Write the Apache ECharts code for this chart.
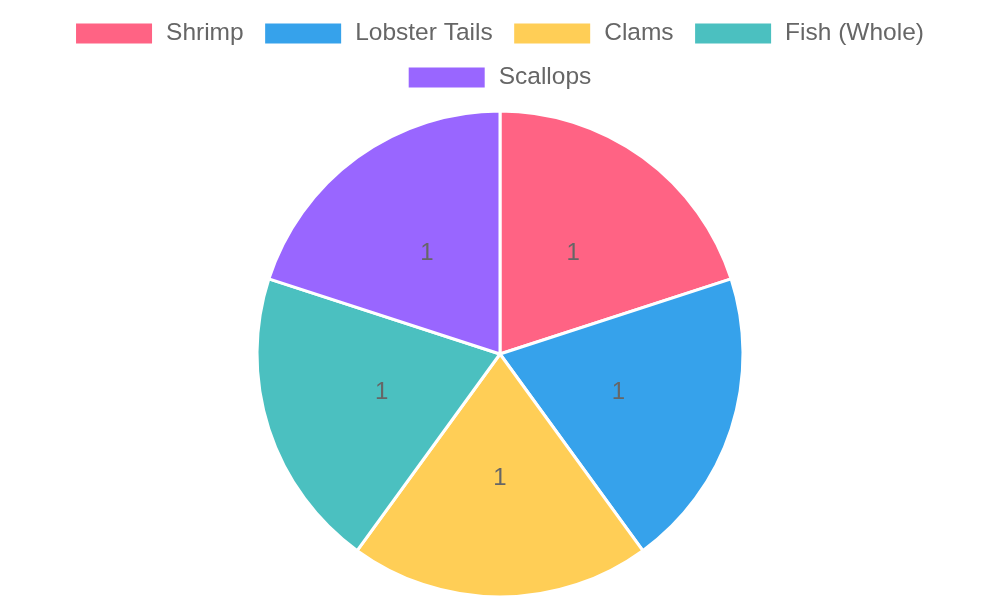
<!DOCTYPE html>
<html>
<head>
<meta charset="utf-8">
<script src="https://cdn.jsdelivr.net/npm/echarts@6/dist/echarts.min.js"></script>
<style>html,body{margin:0;padding:0;background:#fff}#c{width:1000px;height:600px}</style>
</head>
<body>
<div id="c"></div>
<script>
const categories = ['Shrimp', 'Lobster Tails', 'Clams', 'Fish (Whole)', 'Scallops'];
const values = [1, 1, 1, 1, 1];
const colors = ['#ff6384', '#36a2eb', '#ffce56', '#4bc0c0', '#9966ff'];

const chart = echarts.init(document.getElementById('c'));
const legendBase = {
  orient: 'horizontal',
  left: 'center',
  icon: 'rect',
  itemWidth: 76,
  itemHeight: 20,
  itemGap: 21.5,
  itemStyle: { borderWidth: 0 },
  textStyle: {
    fontFamily: 'Liberation Sans, Arial, sans-serif',
    fontSize: 24.5,
    color: '#666',
    lineHeight: 24,
    padding: [0, 0, 0, 9]
  }
};
chart.setOption({
  animation: false,
  color: colors,
  legend: [
    Object.assign({}, legendBase, { top: 16, data: categories.slice(0, 4) }),
    Object.assign({}, legendBase, { top: 60, data: categories.slice(4) })
  ],
  series: [{
    type: 'pie',
    center: [500, 354],
    radius: [0, 243],
    startAngle: 90,
    clockwise: true,
    data: categories.map((c, i) => ({ name: c, value: values[i] })),
    itemStyle: { borderColor: '#fff', borderWidth: 3 },
    label: {
      position: 'inside',
      formatter: '{c}',
      fontFamily: 'Liberation Sans, Arial, sans-serif',
      fontSize: 24,
      color: '#666'
    },
    labelLine: { show: false },
    emphasis: { disabled: true }
  }]
});
</script>
</body>
</html>
